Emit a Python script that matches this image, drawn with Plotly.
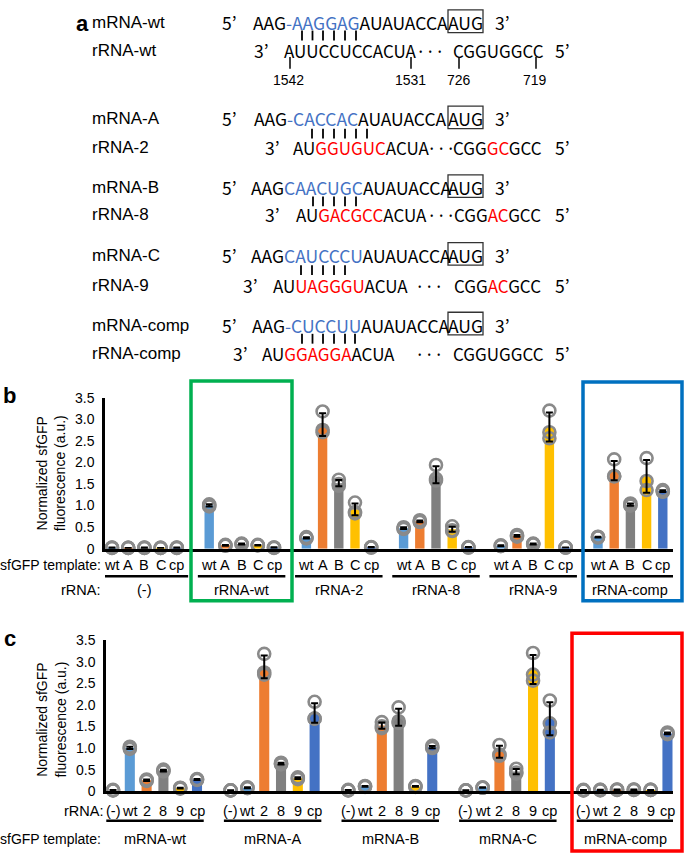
import numpy as np
import plotly.graph_objects as go

W, H = 685, 862

# ---------------- data ----------------
TEMPLATE_TICKS_B = ["wt", "A", "B", "C", "cp"]
RRNA_GROUPS_B = ["(-)", "rRNA-wt", "rRNA-2", "rRNA-8", "rRNA-9", "rRNA-comp"]
RRNA_TICKS_C = ["(-)", "wt", "2", "8", "9", "cp"]
TEMPLATE_GROUPS_C = ["mRNA-wt", "mRNA-A", "mRNA-B", "mRNA-C", "mRNA-comp"]
Y_TICKS = [0, 0.5, 1.0, 1.5, 2.0, 2.5, 3.0, 3.5]
Y_TICKTEXT = ["0", "0.5", "1.0", "1.5", "2.0", "2.5", "3.0", "3.5"]

# replicate measurements: per rRNA, per sfGFP template (wt, A, B, C, cp)
REP_NONE = [[0.02, 0.02, 0.03], [0.02, 0.02, 0.02], [0.02, 0.03, 0.02], [0.02, 0.02, 0.02], [0.02, 0.02, 0.03]]
REP_WT = [[1.03, 0.98, 1.00], [0.08, 0.07, 0.09], [0.11, 0.10, 0.12], [0.08, 0.08, 0.09], [0.03, 0.02, 0.03]]
REP_2 = [[0.27, 0.24, 0.25], [3.18, 2.75, 2.70], [1.60, 1.50, 1.46], [1.07, 0.85, 0.82], [0.03, 0.03, 0.04]]
REP_8 = [[0.50, 0.47, 0.46], [0.66, 0.63, 0.62], [1.94, 1.62, 1.58], [0.52, 0.43, 0.41], [0.04, 0.03, 0.03]]
REP_9 = [[0.07, 0.06, 0.08], [0.32, 0.30, 0.28], [0.12, 0.11, 0.10], [3.20, 2.70, 2.56], [0.03, 0.03, 0.03]]
REP_COMP = [[0.28, 0.26, 0.27], [2.07, 1.68, 1.68], [1.05, 1.00, 1.01], [2.10, 1.57, 1.36], [1.36, 1.32, 1.33]]
REPS = [REP_NONE, REP_WT, REP_2, REP_8, REP_9, REP_COMP]

TEMPLATE_COLORS = ["#5B9BD5", "#ED7D31", "#808080", "#FFC000", "#4472C4"]
RRNA_COLORS = ["rgba(0,0,0,0)", "#5B9BD5", "#ED7D31", "#808080", "#FFC000", "#4472C4"]

ARIAL = "Liberation Sans, Arial, sans-serif"
SEQ = "Noto Sans CJK JP, Noto Sans, sans-serif"
K, BL, RD = "#000000", "#4472C4", "#FF0000"

def px(x):
    return x / W

def py(y):
    return 1 - y / H

annotations = []
shapes = []

def ann(x, y, text, size=15, color="black", xanchor="center", family=ARIAL, xref="paper", **kw):
    annotations.append(dict(
        x=x if xref != "paper" else px(x), y=py(y), xref=xref, yref="paper",
        text=text, showarrow=False, xanchor=xanchor, yanchor="middle",
        font=dict(size=size, color=color, family=family), **kw))

def line(x0, y0, x1, y1, color="black", width=1.8, xref="paper"):
    shapes.append(dict(type="line", xref=xref, yref="paper",
                       x0=x0 if xref != "paper" else px(x0), x1=x1 if xref != "paper" else px(x1),
                       y0=py(y0), y1=py(y1), line=dict(color=color, width=width)))

def rect(x0, y0, x1, y1, color, width):
    shapes.append(dict(type="rect", xref="paper", yref="paper",
                       x0=px(x0), x1=px(x1), y0=py(y0), y1=py(y1),
                       line=dict(color=color, width=width), fillcolor="rgba(0,0,0,0)"))

# ---------------- panel a (sequence diagram) ----------------
M_SIZE = 17.5
R_SIZE = 17
DOTS = "···"
ann(82, 16, "<b>a</b>", size=22, family=ARIAL)

def chunk(y, parts, x0, x1, size):
    text = "".join(t if c == K else f"<span style='color:{c}'>{t}</span>" for t, c in parts)
    ann((x0 + x1) / 2, y, text, size=size, family=SEQ)

def mrna_row(y, label, blue):
    ann(90, y, label, size=17, xanchor="left")
    ann(230, y, "5’", size=M_SIZE, family=SEQ)
    chunk(y, [("AAG", K), (blue, BL), ("AUAUACCA", K)], 253, 448, M_SIZE)
    chunk(y, [("AUG", K)], 449, 482, M_SIZE)
    ann(502, y, "3’", size=M_SIZE, family=SEQ)
    rect(448, y - 13, 483, y + 10, "#333333", 1.3)

def rrna_row(y, label, three_x, chunks):
    ann(90, y, label, size=17, xanchor="left")
    ann(three_x, y, "3’", size=M_SIZE, family=SEQ)
    for parts, x0, x1 in chunks:
        chunk(y, parts, x0, x1, R_SIZE)
    ann(562, y, "5’", size=M_SIZE, family=SEQ)

def pairs(xs, y0, y1):
    for x in xs:
        line(x, y0, x, y1, width=1.8)

mrna_row(15, "mRNA-wt", "-AAGGAG")
pairs([302, 312.5, 323, 334, 345, 356], 23, 33)
rrna_row(43, "rRNA-wt", 261, [([("AUUCCUCCACUA", K)], 286, 415), ([(DOTS, K)], 419, 441),
                              ([("CGGUGGCC", K)], 455, 542)])
for x in [290, 411, 459, 536]:
    line(x, 50, x, 62, width=1.5)
for x, t in [(288, "1542"), (410, "1531"), (459, "726"), (535, "719")]:
    ann(x, 73, t, size=14)

mrna_row(113, "mRNA-A", "-CACCAC")
pairs([312, 323, 334, 345, 356, 367], 123, 133)
rrna_row(142, "rRNA-2", 272, [([("AU", K), ("GGUGUC", RD), ("ACUA", K)], 296, 427), ([(DOTS, K)], 432, 450),
                              ([("CGG", K), ("GC", RD), ("GCC", K)], 455, 540)])

mrna_row(183, "mRNA-B", "CAACUGC")
pairs([313, 323, 334, 345, 356], 192, 202)
rrna_row(210, "rRNA-8", 272, [([("AU", K), ("GACGCC", RD), ("ACUA", K)], 296, 427), ([(DOTS, K)], 432, 450),
                              ([("CGG", K), ("AC", RD), ("GCC", K)], 455, 540)])

mrna_row(252, "mRNA-C", "CAUCCCU")
pairs([301, 312, 323, 334, 345], 262, 272)
rrna_row(283, "rRNA-9", 250, [([("AU", K), ("UAGGGU", RD), ("ACUA", K)], 275, 405), ([(DOTS, K)], 418, 440),
                              ([("CGG", K), ("AC", RD), ("GCC", K)], 455, 540)])

mrna_row(323, "mRNA-comp", "-CUCCUU")
pairs([302, 312.5, 323, 334, 345, 355], 332, 342)
rrna_row(352, "rRNA-comp", 240, [([("AU", K), ("GGAGGA", RD), ("ACUA", K)], 263, 393), ([(DOTS, K)], 418, 440),
                                 ([("CGGUGGCC", K)], 455, 542)])

# ---------------- bar panels ----------------
fig = go.Figure()

def stats(reps):
    arr = np.array(reps, dtype=float)
    return arr.mean(), arr.std(ddof=1)

def add_panel(xs, reps_list, colors, width, xa, ya):
    means, sds, px_, py_ = [], [], [], []
    for x, reps in zip(xs, reps_list):
        m, s = stats(reps)
        means.append(m)
        sds.append(s)
        for v in reps:
            px_.append(x)
            py_.append(v)
    fig.add_trace(go.Bar(x=xs, y=means, width=width, marker=dict(color=colors, line=dict(width=0)),
                         xaxis=xa, yaxis=ya, hoverinfo="skip"))
    fig.add_trace(go.Scatter(x=px_, y=py_, mode="markers", xaxis=xa, yaxis=ya, cliponaxis=False,
                             marker=dict(symbol="circle-open", size=12, color="#8A8A8A", line=dict(width=2.6)),
                             hoverinfo="skip"))
    fig.add_trace(go.Scatter(x=xs, y=means, mode="markers", xaxis=xa, yaxis=ya, cliponaxis=False,
                             marker=dict(size=1, color="rgba(0,0,0,0)"),
                             error_y=dict(type="data", array=sds, visible=True, color="black", thickness=2, width=3.5),
                             hoverinfo="skip"))

# panel b: groups by rRNA, bars by template
xb, rb, cb = [], [], []
for g in range(len(RRNA_GROUPS_B)):
    for i in range(len(TEMPLATE_TICKS_B)):
        xb.append(g * 6 + i)
        rb.append(REPS[g][i])
        cb.append(TEMPLATE_COLORS[i])
add_panel(xb, rb, cb, 0.58, "x", "y")

# panel c: groups by template, bars by rRNA
xc, rc, cc = [], [], []
for m in range(len(TEMPLATE_GROUPS_C)):
    for r in range(len(RRNA_TICKS_C)):
        xc.append(m * 7 + r)
        rc.append(REPS[r][m])
        cc.append(RRNA_COLORS[r])
add_panel(xc, rc, cc, 0.6, "x2", "y2")

LBL = 14.5
# panel b labels
ann(9, 395, "<b>b</b>", size=22)
ann(51, 474, "Normalized sfGFP<br>fluorescence (a.u.)", size=14, textangle=-90)
ann(103, 568, "sfGFP template:", size=14, xanchor="right")
ann(102, 593, "rRNA:", size=LBL, xanchor="right")
for g, name in enumerate(RRNA_GROUPS_B):
    for i, t in enumerate(TEMPLATE_TICKS_B):
        ann(g * 6 + i, 568, t, size=LBL, xref="x")
    line(g * 6 - 0.7, 579, g * 6 + 4.7, 579, width=2.5, xref="x")
    ann(g * 6 + 2, 593, name, size=LBL, xref="x")

# panel c labels
ann(10, 642, "<b>c</b>", size=22)
ann(51, 725, "Normalized sfGFP<br>fluorescence (a.u.)", size=14, textangle=-90)
ann(105, 818, "rRNA:", size=LBL, xanchor="right")
ann(103, 847, "sfGFP template:", size=14, xanchor="right")
for m, name in enumerate(TEMPLATE_GROUPS_C):
    for r, t in enumerate(RRNA_TICKS_C):
        ann(m * 7 + r, 818, t, size=LBL, xref="x2")
    line(m * 7 - 0.4, 828, m * 7 + 5.4, 828, width=2.5, xref="x2")
    ann(m * 7 + 2.5, 847, name, size=LBL, xref="x2")

# highlight boxes
rect(191, 380, 292, 604, "#00B050", 3.5)
rect(583, 381, 682, 604, "#0070C0", 3.5)
rect(572, 637, 682, 859, "#FF0000", 3.5)

axis_common = dict(showgrid=False, zeroline=False, showline=True, linecolor="black", linewidth=2.5, ticks="",
                   fixedrange=True)
yaxis_common = dict(axis_common, range=[0, 3.5], tickvals=Y_TICKS, ticktext=Y_TICKTEXT,
                    tickfont=dict(family=ARIAL, size=14, color="black"), ticklabelstandoff=5)

fig.update_layout(
    width=W, height=H, autosize=False, showlegend=False,
    margin=dict(l=0, r=0, t=0, b=0, pad=0),
    paper_bgcolor="white", plot_bgcolor="rgba(0,0,0,0)", barmode="overlay",
    xaxis=dict(axis_common, domain=[px(105), px(673)], range=[-0.432, 34.63], showticklabels=False, anchor="y"),
    yaxis=dict(yaxis_common, domain=[py(551), py(397)], anchor="x"),
    xaxis2=dict(axis_common, domain=[px(106), px(673)], range=[-0.417, 33.33], showticklabels=False, anchor="y2"),
    yaxis2=dict(yaxis_common, domain=[py(798), py(644)], anchor="x2"),
    annotations=annotations, shapes=shapes,
)

fig.write_html("out.html", config={"displayModeBar": False},
               post_script="document.body.style.margin='0';document.body.style.padding='0';")
